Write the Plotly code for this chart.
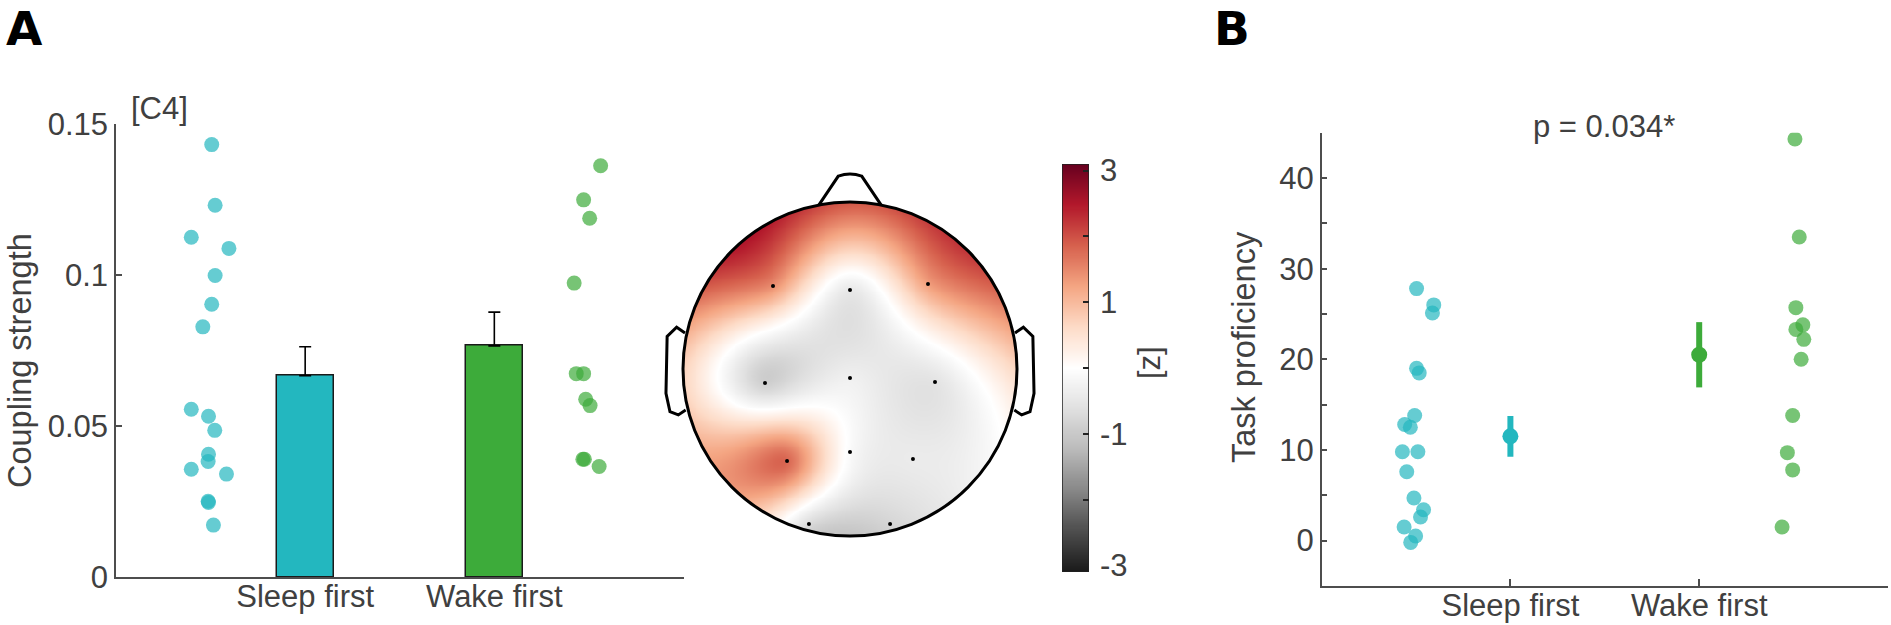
import numpy as np
import plotly.graph_objects as go

W, H = 1891, 625
FONT = "Liberation Sans, Arial, sans-serif"
TXT = "#404040"
AXC = "#4d4d4d"

# ---------------- data ----------------
categories = ["Sleep first", "Wake first"]
group_colors = ["#23b7bf", "#3dab3a"]

# Panel A: coupling strength at C4
a_sleep_vals = [0.1433, 0.1232, 0.1126, 0.1089, 0.0999, 0.0904, 0.0829, 0.0556, 0.0533,
                0.0486, 0.0407, 0.0383, 0.0357, 0.0341, 0.0251, 0.0247, 0.0172]
a_sleep_x = [0.506, 0.524, 0.398, 0.597, 0.524, 0.506, 0.459, 0.398, 0.489,
             0.522, 0.489, 0.487, 0.398, 0.584, 0.487, 0.489, 0.515]
a_wake_vals = [0.1363, 0.1250, 0.1189, 0.0974, 0.0674, 0.0674, 0.0589, 0.0568, 0.0390, 0.0390, 0.0366]
a_wake_x = [2.562, 2.472, 2.504, 2.422, 2.433, 2.472, 2.483, 2.506, 2.468, 2.476, 2.554]
a_bar_means = [0.0667, 0.0766]
a_bar_err = [0.0096, 0.0112]

# Topography (z values at electrodes)
elec_labels = ["F3", "Fz", "F4", "C3", "Cz", "C4", "P3", "Pz", "P4", "O1", "O2"]
elec_x = [-0.461, 0.0, 0.467, -0.509, 0.0, 0.509, -0.377, 0.0, 0.377, -0.246, 0.240]
elec_y = [0.497, 0.473, 0.509, -0.084, -0.054, -0.078, -0.551, -0.497, -0.539, -0.928, -0.928]
elec_z = [1.45, -0.45, 1.3, -0.9, -0.3, -0.55, 1.8, -0.1, -0.4, -0.7, -0.8]
z_limits = [-3.1, 3.1]
cbar_ticks = [-3, -2, -1, 0, 1, 2, 3]
cbar_labels = ["-3", "", "-1", "", "1", "", "3"]

# Panel B: task proficiency
b_sleep_vals = [27.8, 26.0, 25.1, 19.0, 18.5, 13.8, 12.8, 12.5, 9.8, 9.8, 7.6, 4.7, 3.4, 2.6, 1.5, 0.5, -0.2]
b_sleep_x = [0.503, 0.594, 0.587, 0.503, 0.517, 0.493, 0.440, 0.470, 0.428, 0.510, 0.451,
             0.489, 0.540, 0.524, 0.437, 0.498, 0.472]
b_wake_vals = [44.3, 33.5, 25.7, 23.8, 23.3, 22.2, 20.0, 13.8, 9.7, 7.8, 1.5]
b_wake_x = [2.507, 2.530, 2.512, 2.549, 2.512, 2.554, 2.540, 2.495, 2.467, 2.495, 2.439]
b_means = [11.5, 20.5]
b_sem = [2.25, 3.6]
b_yticks = [-5, 0, 5, 10, 15, 20, 25, 30, 35, 40, 45]
b_yticklabels = ["", "0", "", "10", "", "20", "", "30", "", "40", ""]
p_text = "p = 0.034*"


def rgba(hexc, a):
    h = hexc.lstrip("#")
    return "rgba(%d,%d,%d,%.2f)" % (int(h[0:2], 16), int(h[2:4], 16), int(h[4:6], 16), a)


def pxx(x):
    return x / W


def pxy(y):
    return 1 - y / H


# ---------------- biharmonic spline (v4) interpolation for topography ----------------
ex = np.array(elec_x) * 0.5
ey = np.array(elec_y) * 0.5
ez = np.array(elec_z)
pts = ex + 1j * ey


def green(d):
    with np.errstate(divide="ignore", invalid="ignore"):
        g = d ** 2 * (np.log(d) - 1)
    g[d == 0] = 0
    return g


G = green(np.abs(pts[:, None] - pts[None, :]))
wts = np.linalg.solve(G, ez)
n = 361
grid = np.linspace(-1, 1, n)
GX, GY = np.meshgrid(grid, grid)
Q = (GX + 1j * GY).ravel() * 0.5
Zq = green(np.abs(Q[:, None] - pts[None, :])) @ wts
Z = Zq.reshape(n, n)
Z[np.hypot(GX, GY) > 1.0] = np.nan

fig = go.Figure()

# ---------------- Panel A ----------------
fig.add_trace(go.Scatter(x=a_sleep_x, y=a_sleep_vals, mode="markers",
                         marker=dict(size=15, color=rgba(group_colors[0], 0.7), line=dict(width=0)),
                         xaxis="x", yaxis="y", showlegend=False))
fig.add_trace(go.Scatter(x=a_wake_x, y=a_wake_vals, mode="markers",
                         marker=dict(size=15, color=rgba(group_colors[1], 0.7), line=dict(width=0)),
                         xaxis="x", yaxis="y", showlegend=False))
for i in range(2):
    fig.add_trace(go.Bar(x=[i + 1], y=[a_bar_means[i]], width=0.3,
                         marker=dict(color=group_colors[i], line=dict(color="#1a1a1a", width=1.5)),
                         error_y=dict(type="data", symmetric=False, array=[a_bar_err[i]], arrayminus=[0],
                                      color="black", thickness=1.6, width=6),
                         xaxis="x", yaxis="y", showlegend=False))

# ---------------- Topography ----------------
fig.add_trace(go.Heatmap(x=grid, y=grid, z=Z, colorscale="RdGy_r", zmin=z_limits[0], zmax=z_limits[1],
                         xaxis="x3", yaxis="y3", hoverinfo="skip", showscale=False))
fig.add_trace(go.Scatter(x=elec_x, y=elec_y, mode="markers", text=elec_labels,
                         marker=dict(size=4, color="black"), xaxis="x3", yaxis="y3", showlegend=False))

# colour bar drawn as its own heatmap
cb_vals = np.linspace(z_limits[0], z_limits[1], 400)
fig.add_trace(go.Heatmap(x=[0, 1], y=cb_vals, z=np.column_stack([cb_vals, cb_vals]),
                         colorscale="RdGy_r", zmin=z_limits[0], zmax=z_limits[1],
                         xaxis="x4", yaxis="y4", hoverinfo="skip", showscale=False))

# ---------------- Panel B ----------------
fig.add_trace(go.Scatter(x=b_sleep_x, y=b_sleep_vals, mode="markers",
                         marker=dict(size=15, color=rgba(group_colors[0], 0.7), line=dict(width=0)),
                         xaxis="x2", yaxis="y2", showlegend=False))
fig.add_trace(go.Scatter(x=b_wake_x, y=b_wake_vals, mode="markers",
                         marker=dict(size=15, color=rgba(group_colors[1], 0.7), line=dict(width=0)),
                         xaxis="x2", yaxis="y2", showlegend=False))
for i in range(2):
    fig.add_trace(go.Scatter(x=[i + 1], y=[b_means[i]], mode="markers",
                             marker=dict(size=16, color=group_colors[i]),
                             error_y=dict(type="data", array=[b_sem[i]], color=group_colors[i],
                                          thickness=6, width=0),
                             xaxis="x2", yaxis="y2", showlegend=False))

axis_common = dict(showgrid=False, zeroline=False, showline=True, linecolor=AXC, linewidth=1.5,
                   tickcolor=AXC, tickwidth=1.5, tickfont=dict(family=FONT, size=31, color=TXT),
                   fixedrange=True, automargin=False)

# head outline shapes
shapes = [
    dict(type="circle", xref="x3", yref="y3", x0=-1, y0=-1, x1=1, y1=1,
         line=dict(color="black", width=3), layer="above"),
    dict(type="path", xref="x3", yref="y3",
         path="M -0.186 0.983 L -0.07 1.155 Q 0 1.18 0.07 1.155 L 0.186 0.983",
         line=dict(color="black", width=3)),
    dict(type="path", xref="x3", yref="y3",
         path="M -0.988 0.216 L -1.038 0.25 L -1.095 0.195 L -1.102 -0.146 L -1.078 -0.256 "
              "L -1.028 -0.275 L -0.984 -0.246",
         line=dict(color="black", width=3)),
    dict(type="path", xref="x3", yref="y3",
         path="M 0.988 0.216 L 1.038 0.25 L 1.095 0.195 L 1.102 -0.146 L 1.078 -0.256 "
              "L 1.028 -0.275 L 0.984 -0.246",
         line=dict(color="black", width=3)),
    dict(type="rect", xref="x4", yref="y4", x0=0, x1=1, y0=z_limits[0], y1=z_limits[1],
         line=dict(color="#222222", width=1.5), layer="above"),
]

annotations = [
    dict(text="<b>A</b>", x=pxx(4), y=pxy(29), xanchor="left", yanchor="middle",
         font=dict(family="DejaVu Sans", size=47, color="black")),
    dict(text="<b>B</b>", x=pxx(1212), y=pxy(29), xanchor="left", yanchor="middle",
         font=dict(family="DejaVu Sans", size=47, color="black")),
    dict(text="[C4]", x=pxx(159), y=pxy(108), xanchor="center", yanchor="middle",
         font=dict(family=FONT, size=31, color=TXT)),
    dict(text="Coupling strength", x=pxx(20), y=pxy(361), xanchor="center", yanchor="middle",
         textangle=-90, font=dict(family=FONT, size=32.5, color=TXT)),
    dict(text="Task proficiency", x=pxx(1244), y=pxy(347), xanchor="center", yanchor="middle",
         textangle=-90, font=dict(family=FONT, size=32.5, color=TXT)),
    dict(text="[z]", x=pxx(1149), y=pxy(363), xanchor="center", yanchor="middle",
         textangle=-90, font=dict(family=FONT, size=31, color=TXT)),
    dict(text=p_text, x=pxx(1604), y=pxy(126), xanchor="center", yanchor="middle",
         font=dict(family=FONT, size=31, color=TXT)),
]
for a in annotations:
    a.update(xref="paper", yref="paper", showarrow=False)

fig.update_layout(
    width=W, height=H, autosize=False,
    margin=dict(l=0, r=0, t=0, b=0, pad=0),
    paper_bgcolor="white", plot_bgcolor="rgba(0,0,0,0)",
    bargap=0, showlegend=False,
    xaxis=dict(domain=[pxx(116), pxx(683.5)], range=[0, 3], tickvals=[1, 2], ticktext=categories,
               ticks="", anchor="y", ticklabelstandoff=-9, **axis_common),
    yaxis=dict(domain=[pxy(577), pxy(124.4)], range=[0, 0.150001], tickvals=[0, 0.05, 0.1, 0.15],
               ticktext=["0", "0.05", "0.1", "0.15"], ticks="inside", ticklen=6, anchor="x",
               **axis_common),
    xaxis2=dict(domain=[pxx(1321.6), pxx(1888)], range=[0, 3], tickvals=[1, 2], ticktext=categories,
                ticks="inside", ticklen=7, anchor="y2", ticklabelstandoff=-9, **axis_common),
    yaxis2=dict(domain=[pxy(585.9), pxy(132.7)], range=[-5, 45.0001], tickvals=b_yticks,
                ticktext=b_yticklabels, ticks="inside", ticklen=6, anchor="x2", **axis_common),
    xaxis3=dict(domain=[pxx(640), pxx(1060)], range=[(640 - 850) / 167, (1060 - 850) / 167],
                visible=False, anchor="y3", fixedrange=True, automargin=False),
    yaxis3=dict(domain=[pxy(580), pxy(150)], range=[(369 - 580) / 167, (369 - 150) / 167],
                visible=False, anchor="x3", fixedrange=True, automargin=False),
    xaxis4=dict(domain=[pxx(1062), pxx(1089)], range=[0, 1], visible=False, anchor="y4",
                fixedrange=True, automargin=False),
    yaxis4=dict(domain=[pxy(572), pxy(164)], range=z_limits, side="right", anchor="x4",
                tickvals=cbar_ticks, ticktext=cbar_labels, ticks="inside", ticklen=6,
                tickwidth=2, tickcolor="#222222", showline=False, showgrid=False, zeroline=False,
                ticklabelstandoff=10, tickfont=dict(family=FONT, size=31, color=TXT),
                fixedrange=True, automargin=False),
    shapes=shapes,
    annotations=annotations,
)

fig.write_html("out.html", config={"displayModeBar": False},
               post_script="document.body.style.margin='0';document.body.style.overflow='hidden';")
